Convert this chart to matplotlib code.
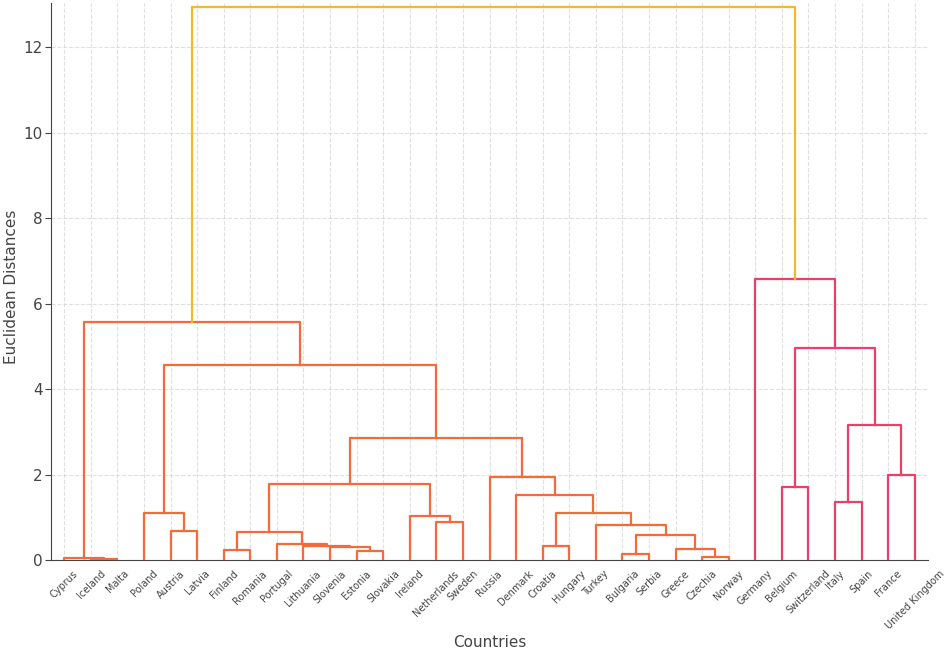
import matplotlib
matplotlib.use("Agg")
import matplotlib.pyplot as plt

# leaf labels (countries)
countries = ["Cyprus", "Iceland", "Malta", "Poland", "Austria", "Latvia", "Finland",
             "Romania", "Portugal", "Lithuania", "Slovenia", "Estonia", "Slovakia",
             "Ireland", "Netherlands", "Sweden", "Russia", "Denmark", "Croatia",
             "Hungary", "Turkey", "Bulgaria", "Serbia", "Greece", "Czechia", "Norway",
             "Germany", "Belgium", "Switzerland", "Italy", "Spain", "France",
             "United Kingdom"]

# linkage: (left, right, height); clusters named c0, c1, ... in order of creation
links = [
    ("Iceland", "Malta", 0.02),          # c0
    ("Cyprus", "c0", 0.05),              # c1
    ("Austria", "Latvia", 0.69),         # c2
    ("Poland", "c2", 1.11),              # c3
    ("Finland", "Romania", 0.24),        # c4
    ("Estonia", "Slovakia", 0.21),       # c5
    ("Slovenia", "c5", 0.30),            # c6
    ("Lithuania", "c6", 0.34),           # c7
    ("Portugal", "c7", 0.39),            # c8
    ("c4", "c8", 0.65),                  # c9
    ("Netherlands", "Sweden", 0.89),     # c10
    ("Ireland", "c10", 1.03),            # c11
    ("c9", "c11", 1.79),                 # c12
    ("Croatia", "Hungary", 0.33),        # c13
    ("Bulgaria", "Serbia", 0.14),        # c14
    ("Czechia", "Norway", 0.08),         # c15
    ("Greece", "c15", 0.26),             # c16
    ("c14", "c16", 0.59),                # c17
    ("Turkey", "c17", 0.83),             # c18
    ("c13", "c18", 1.11),                # c19
    ("Denmark", "c19", 1.52),            # c20
    ("Russia", "c20", 1.94),             # c21
    ("c12", "c21", 2.87),                # c22
    ("c3", "c22", 4.57),                 # c23
    ("c1", "c23", 5.58),                 # c24
    ("Belgium", "Switzerland", 1.71),    # c25
    ("Italy", "Spain", 1.36),            # c26
    ("France", "United Kingdom", 1.99),  # c27
    ("c26", "c27", 3.16),                # c28
    ("c25", "c28", 4.97),                # c29
    ("Germany", "c29", 6.58),            # c30
    ("c24", "c30", 12.94),               # c31
]

y_ticks = [0, 2, 4, 6, 8, 10, 12]

palette = ["#F26B38", "#EB3F68"]
above_color = "#F5B72E"

# positions of leaves (scipy style: 5, 15, 25, ...)
pos = {name: 5 + 10 * i for i, name in enumerate(countries)}
hgt = {name: 0.0 for name in countries}
node = {}
for i, (a, b, h) in enumerate(links):
    cid = "c%d" % i
    node[cid] = (a, b, h)
    pos[cid] = (pos[a] + pos[b]) / 2
    hgt[cid] = h

threshold = 0.7 * max(h for _, _, h in links)

# colour each link by its top-level subtree below the threshold
color = {}
counter = [0]


def paint(cid, col):
    if cid not in node:
        return
    a, b, h = node[cid]
    if col is None and h < threshold:
        col = palette[counter[0] % len(palette)]
        counter[0] += 1
    color[cid] = col if col is not None else above_color
    paint(a, col)
    paint(b, col)


paint("c%d" % (len(links) - 1), None)

fig = plt.figure(figsize=(9.45, 6.54), dpi=100)
ax = fig.add_axes([0.054, 0.1433, 0.928, 0.852])

for cid, (a, b, h) in node.items():
    ax.plot([pos[a], pos[a], pos[b], pos[b]], [hgt[a], h, h, hgt[b]],
            color=color[cid], lw=1.6, zorder=3)

ax.set_xlim(0, 10 * len(countries))
ax.set_ylim(0, 13.03)
ax.set_xticks([pos[c] for c in countries])
ax.set_xticklabels(countries, rotation=45, fontsize=7, color="#444444")
ax.set_yticks(y_ticks)
ax.tick_params(axis="y", labelsize=11, labelcolor="#444444", color="#444444",
               length=4, pad=2)
ax.tick_params(axis="x", length=0, pad=6)

ax.grid(True, linestyle="--", color="#cccccc", alpha=0.6, lw=0.8)
ax.set_axisbelow(True)
for s in ["top", "right"]:
    ax.spines[s].set_visible(False)
for s in ["left", "bottom"]:
    ax.spines[s].set_color("#444444")

ax.set_xlabel("Countries", fontsize=11, color="#444444")
ax.set_ylabel("Euclidean Distances", fontsize=11, color="#444444")
ax.xaxis.set_label_coords(0.5, -0.134)
ax.yaxis.set_label_coords(-0.037, 0.49)

fig.savefig("out.png", dpi=100)
